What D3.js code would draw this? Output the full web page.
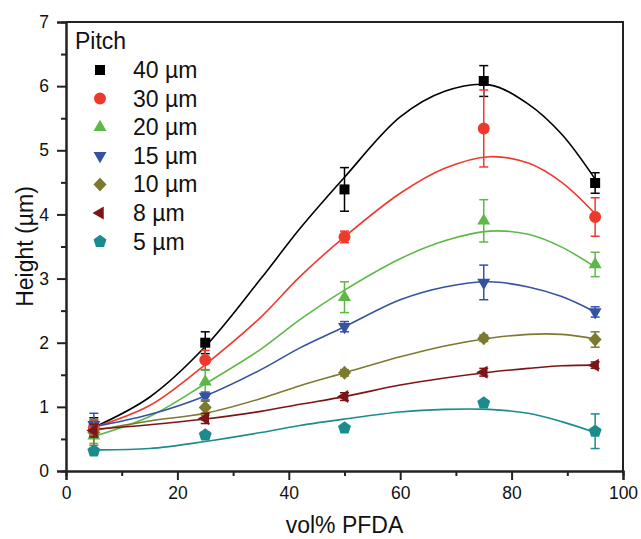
<!DOCTYPE html>
<html>
<head>
<meta charset="utf-8">
<script src="https://d3js.org/d3.v7.min.js"></script>
<style>
  body { margin: 0; background: #fff; }
  text { font-family: "Liberation Sans", Arial, sans-serif; }
</style>
</head>
<body>
<svg width="641" height="539"></svg>
<script>
  // measured points (vol% PFDA)
  const xVals = [5, 25, 50, 75, 95];
  const pitches = ["40 µm", "30 µm", "20 µm", "15 µm", "10 µm", "8 µm", "5 µm"];
  const colors = ["#000000", "#ee3a2c", "#5cb947", "#3551a3", "#7c7a2f", "#7d1518", "#1c8b8d"];
  const shapes = ["square", "circle", "up", "down", "diamond", "left", "pentagon"];

  const h40 = [0.68, 2.00, 4.39, 6.08, 4.49];
  const h30 = [0.67, 1.73, 3.65, 5.34, 3.96];
  const h20 = [0.55, 1.39, 2.71, 3.90, 3.22];
  const h15 = [0.72, 1.16, 2.25, 2.94, 2.48];
  const h10 = [0.60, 0.99, 1.53, 2.07, 2.05];
  const h8  = [0.63, 0.82, 1.16, 1.54, 1.65];
  const h5  = [0.31, 0.56, 0.67, 1.06, 0.62];

  const e40 = [0.15, 0.17, 0.34, 0.24, 0.16];
  const e30 = [0.12, 0.15, 0.09, 0.60, 0.30];
  const e20 = [0.12, 0.18, 0.24, 0.33, 0.19];
  const e15 = [0.18, 0.07, 0.08, 0.27, 0.08];
  const e10 = [0.20, 0.12, 0.05, 0.05, 0.12];
  const e8  = [0.10, 0.08, 0.06, 0.06, 0.05];
  const e5  = [0.05, 0.05, 0.03, 0.03, 0.27];

  // fitted curves
  const fitX = [5, 15, 25, 35, 42, 50, 60, 68, 76, 83, 89, 95];
  const fit40 = [0.68, 1.15, 1.94, 3.00, 3.78, 4.58, 5.52, 5.92, 6.02, 5.72, 5.25, 4.55];
  const fit30 = [0.68, 1.02, 1.66, 2.40, 3.03, 3.65, 4.33, 4.72, 4.90, 4.80, 4.50, 4.01];
  const fit20 = [0.54, 0.85, 1.36, 1.90, 2.36, 2.82, 3.31, 3.59, 3.74, 3.69, 3.49, 3.18];
  const fit15 = [0.69, 0.88, 1.17, 1.58, 1.92, 2.25, 2.67, 2.87, 2.95, 2.87, 2.72, 2.48];
  const fit10 = [0.63, 0.78, 0.90, 1.13, 1.33, 1.53, 1.78, 1.95, 2.07, 2.13, 2.13, 2.06];
  const fit8  = [0.65, 0.72, 0.81, 0.93, 1.04, 1.16, 1.34, 1.45, 1.54, 1.60, 1.64, 1.65];
  const fit5  = [0.33, 0.35, 0.46, 0.60, 0.71, 0.81, 0.92, 0.96, 0.96, 0.90, 0.77, 0.60];

  const heights = [h40, h30, h20, h15, h10, h8, h5];
  const errors = [e40, e30, e20, e15, e10, e8, e5];
  const fits = [fit40, fit30, fit20, fit15, fit10, fit8, fit5];

  const xTicks = [0, 20, 40, 60, 80, 100];
  const yTicks = [0, 1, 2, 3, 4, 5, 6, 7];

  const svg = d3.select("svg");
  const pLeft = 66, pRight = 623, pTop = 22, pBottom = 471;

  const x = d3.scaleLinear().domain([0, 100]).range([pLeft, pRight]);
  const y = d3.scaleLinear().domain([0, 7]).range([pBottom, pTop]);

  // marker outlines
  function poly(n, r, rot) {
    const pts = d3.range(n).map(i => {
      const a = rot + i * 2 * Math.PI / n;
      return [r * Math.cos(a), r * Math.sin(a)];
    });
    return "M" + pts.map(p => p.join(",")).join("L") + "Z";
  }
  function shapePath(s) {
    switch (s) {
      case "square": return "M-5,-5H5V5H-5Z";
      case "circle": return d3.symbol(d3.symbolCircle, 113)();
      case "up": return poly(3, 7.5, -Math.PI / 2);
      case "down": return poly(3, 7.5, Math.PI / 2);
      case "left": return poly(3, 7.5, Math.PI);
      case "diamond": return "M0,-7L6.5,0L0,7L-6.5,0Z";
      case "pentagon": return poly(5, 6.8, -Math.PI / 2);
    }
  }

  // frame
  svg.append("path")
    .attr("d", `M${pLeft},${pTop}H${pRight}V${pBottom}`)
    .attr("fill", "none")
    .attr("stroke", "#222")
    .attr("stroke-width", 2);

  // axes with minor ticks
  svg.append("g").attr("transform", `translate(0,${pBottom})`)
    .call(d3.axisBottom(x).tickValues(d3.range(10, 100, 20)).tickSize(5).tickFormat(""));
  svg.append("g").attr("transform", `translate(0,${pBottom})`)
    .call(d3.axisBottom(x).tickValues(xTicks).tickSize(9).tickPadding(7).tickFormat(d3.format("d")));

  svg.append("g").attr("transform", `translate(${pLeft},0)`)
    .call(d3.axisLeft(y).tickValues(d3.range(0.5, 7, 1)).tickSize(5).tickFormat(""));
  svg.append("g").attr("transform", `translate(${pLeft},0)`)
    .call(d3.axisLeft(y).tickValues(yTicks).tickSize(9).tickPadding(8).tickFormat(d3.format("d")));

  svg.selectAll(".domain, .tick line")
    .attr("stroke", "#222")
    .attr("stroke-width", 2);
  svg.selectAll(".tick text")
    .attr("font-size", 17.5)
    .attr("fill", "#111");

  // fit curves
  const line = d3.line()
    .x(d => x(d[0]))
    .y(d => y(d[1]))
    .curve(d3.curveCatmullRom.alpha(0.5));

  fits.forEach((f, i) => {
    svg.append("path")
      .datum(fitX.map((v, j) => [v, f[j]]))
      .attr("d", line)
      .attr("fill", "none")
      .attr("stroke", colors[i])
      .attr("stroke-width", 1.6);
  });

  // error bars and markers
  heights.forEach((hs, i) => {
    const g = svg.append("g");
    const pts = xVals.map((v, j) => ({ x: v, h: hs[j], e: errors[i][j] }));
    const bars = g.selectAll(".eb").data(pts).enter().append("g")
      .attr("stroke", colors[i])
      .attr("stroke-width", 1.5);
    bars.append("line")
      .attr("x1", d => x(d.x)).attr("x2", d => x(d.x))
      .attr("y1", d => y(d.h + d.e)).attr("y2", d => y(d.h - d.e));
    bars.append("line")
      .attr("x1", d => x(d.x) - 4.5).attr("x2", d => x(d.x) + 4.5)
      .attr("y1", d => y(d.h + d.e)).attr("y2", d => y(d.h + d.e));
    bars.append("line")
      .attr("x1", d => x(d.x) - 4.5).attr("x2", d => x(d.x) + 4.5)
      .attr("y1", d => y(d.h - d.e)).attr("y2", d => y(d.h - d.e));

    g.selectAll(".mk").data(pts).enter().append("path")
      .attr("d", shapePath(shapes[i]))
      .attr("transform", d => `translate(${x(d.x)},${y(d.h)})`)
      .attr("fill", colors[i]);
  });

  // legend
  svg.append("text")
    .attr("x", 75).attr("y", 49)
    .attr("font-size", 23)
    .attr("fill", "#111")
    .text("Pitch");

  const legend = svg.selectAll(".legend")
    .data(pitches)
    .enter().append("g")
    .attr("class", "legend")
    .attr("transform", (d, i) => `translate(100,${70 + i * 28.6})`);

  legend.append("path")
    .attr("d", (d, i) => shapePath(shapes[i]))
    .attr("fill", (d, i) => colors[i]);

  legend.append("text")
    .attr("x", 33)
    .attr("y", 8)
    .attr("font-size", 23)
    .attr("fill", "#111")
    .text(d => d);

  // axis titles
  svg.append("text")
    .attr("x", (pLeft + pRight) / 2)
    .attr("y", 533)
    .attr("text-anchor", "middle")
    .attr("font-size", 23)
    .attr("fill", "#111")
    .text("vol% PFDA");

  svg.append("text")
    .attr("transform", `translate(33,${(pTop + pBottom) / 2}) rotate(-90)`)
    .attr("text-anchor", "middle")
    .attr("font-size", 23)
    .attr("fill", "#111")
    .text("Height (µm)");
</script>
</body>
</html>
